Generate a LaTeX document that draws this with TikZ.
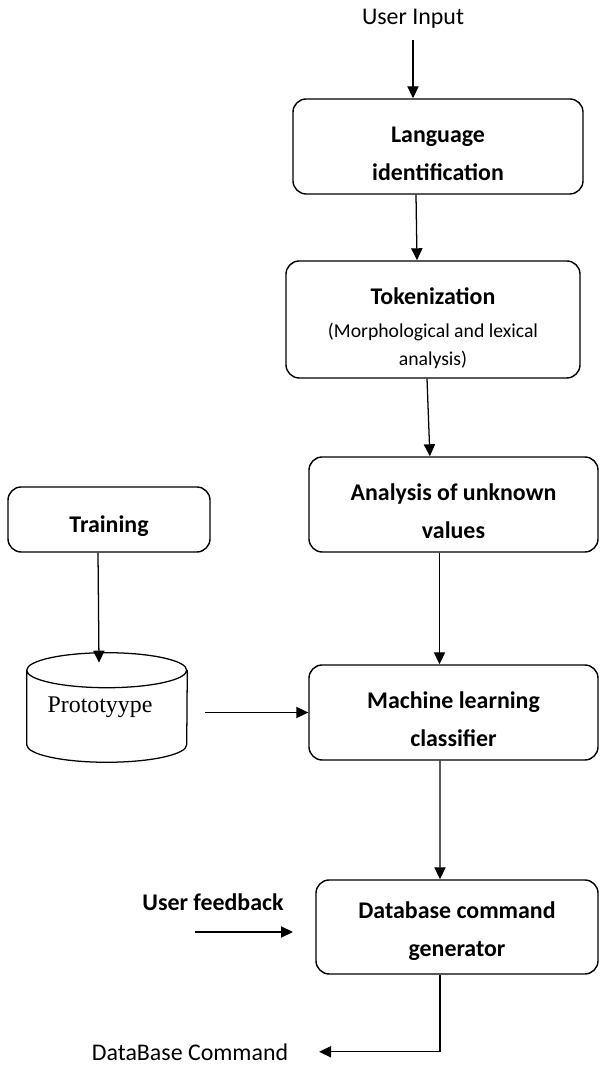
\documentclass[tikz,border=0pt]{standalone}
\usepackage{fontspec}
\setmainfont{Carlito}
\newfontfamily\protofont{Liberation Serif}
\usetikzlibrary{arrows.meta}

\tikzset{
  stage/.style={draw, rounded corners=0.33cm, align=center, line width=1pt,
    font=\fontsize{17}{27.5}\selectfont\bfseries},
  textdrop/.style={execute at begin node={\rule{0pt}{#1}}},
  plain/.style={font=\fontsize{17}{20}\selectfont},
  flow/.style={line width=0.9pt, -{Triangle[length=0.3cm, width=0.28cm]}}
}

\begin{document}
\begin{tikzpicture}

\useasboundingbox (0,0) rectangle (14.975,26.625);

\node[plain] (input) at (10.325,26.15) {User Input};

\node[stage, textdrop=1.72cm, minimum width=7.25cm, minimum height=2.375cm] (lang) at (10.95,22.9625) {Language\\identification};
\node[stage, textdrop=2.4cm, minimum width=7.35cm, minimum height=2.925cm] (tok) at (10.825,18.6375)
  {Tokenization\\[-0.15cm]{\fontsize{14}{20}\selectfont\mdseries (Morphological and lexical}\\[-0.25cm]{\fontsize{14}{20}\selectfont\mdseries analysis)}};
\node[stage, textdrop=1.72cm, minimum width=7.225cm, minimum height=2.375cm] (ana) at (11.3375,14.0125) {Analysis of unknown\\values};
\node[stage, textdrop=1.72cm, minimum width=7.225cm, minimum height=2.375cm] (ml) at (11.3375,8.8125) {Machine learning\\classifier};
\node[stage, textdrop=1.6cm, minimum width=7.05cm, minimum height=2.35cm] (db) at (11.425,3.45) {Database command\\generator};

\node[stage, textdrop=0.75cm, minimum width=5.05cm, minimum height=1.625cm] (train) at (2.725,13.6375) {Training};

% storage drum
\node[minimum width=4cm, minimum height=2.725cm, inner sep=0pt] (proto) at (2.675,8.9375) {};
\draw[line width=0.9pt] ([yshift=-0.4375cm]proto.north west)
  arc[start angle=180, end angle=540, x radius=2cm, y radius=0.4375cm]
  -- ([yshift=0.4375cm]proto.south west)
  arc[start angle=180, end angle=360, x radius=2cm, y radius=0.4375cm]
  -- ([yshift=-0.4375cm]proto.north east);
\node[font=\fontsize{17}{20}\selectfont\protofont] (protolabel) at (2.5,8.95) {Prototyype};

\node[plain, font=\fontsize{17}{20}\selectfont\bfseries] (feedback) at (5.325,4.075) {User feedback};
\coordinate (fbstart) at (4.875,3.325);
\coordinate (fbend) at (7.325,3.325);

\node[plain] (dbcmd) at (4.75,0.33) {DataBase Command};


\draw[flow] ([yshift=-0.15cm]input.south) -- (input |- lang.north);
\draw[flow] ([xshift=-0.55cm]lang.south) -- ([xshift=-0.4cm]tok.north);
\draw[flow] ([xshift=-0.15cm]tok.south) -- ([xshift=-0.59cm]ana.north);
\draw[flow] ([xshift=-0.35cm]ana.south) -- ([xshift=-0.35cm]ml.north);
\draw[flow] ([xshift=-0.34cm]ml.south) -- ([xshift=-0.425cm]db.north);

\draw[flow] ([xshift=-0.275cm]train.south) -- ([xshift=-0.2cm,yshift=-0.25cm]proto.north);
\draw[flow] (5.125,0 |- ml.west) -- (ml.west);

\draw[flow] (fbstart) -- (fbend);
\draw[flow] ([xshift=-0.425cm]db.south) |- ([xshift=0.65cm]dbcmd.east);

\end{tikzpicture}
\end{document}
